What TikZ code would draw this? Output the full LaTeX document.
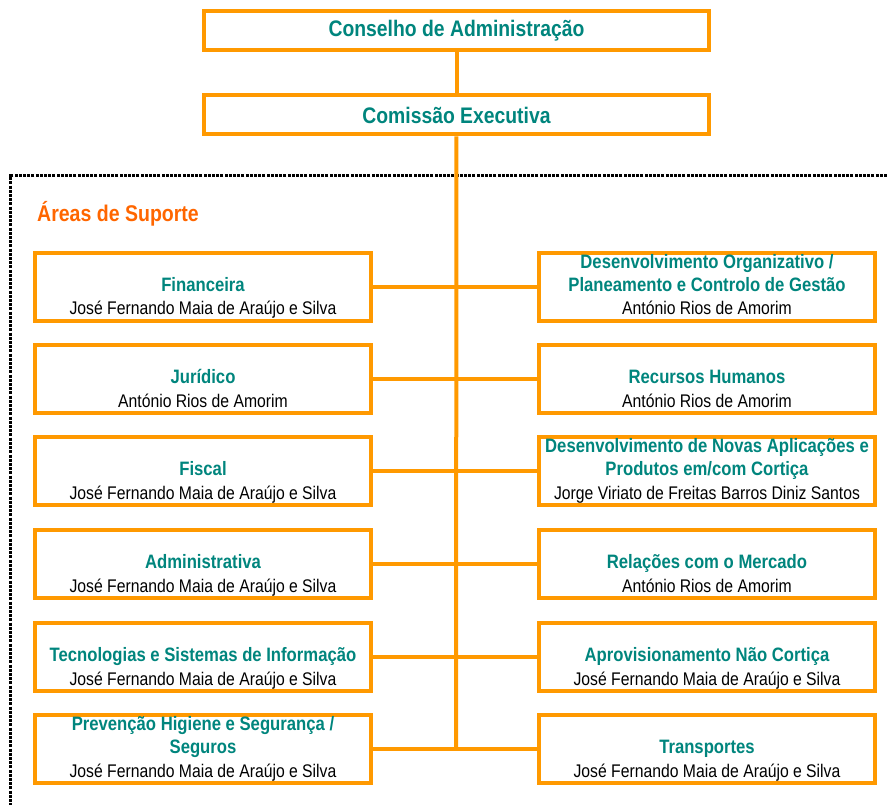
\documentclass[tikz,border=0pt]{standalone}
\usepackage{fontspec}
\setmainfont[FakeStretch=0.86]{Liberation Sans}
\definecolor{boxorange}{RGB}{255,153,0}
\definecolor{headteal}{RGB}{0,133,125}
\definecolor{areaorange}{RGB}{255,102,0}
\begin{document}
\begin{tikzpicture}[x=1pt,y=-1pt]
\tikzstyle{top}=[draw=boxorange,line width=4pt,minimum width=505pt,minimum height=39pt,inner sep=0pt,text=headteal,font=\bfseries\fontsize{22.5}{26}\selectfont];
\tikzstyle{unit}=[draw=boxorange,line width=4pt,minimum width=336pt,minimum height=68pt,inner sep=0pt];
\tikzstyle{head}=[anchor=south,text depth=0pt,inner sep=0pt,align=center,text=headteal,font=\bfseries\fontsize{19.4}{23}\selectfont];
\tikzstyle{who}=[anchor=base,inner sep=0pt,font=\fontsize{18.3}{22}\selectfont];
\tikzstyle{link}=[draw=boxorange,line width=4pt];
\useasboundingbox (0,0) rectangle (887,805);

% dotted frame round the support areas
\draw [line width=3pt,dash pattern=on 3pt off 1.2pt] (887,176) -- (10.5,176) -- (10.5,805);
\node [anchor=base west,inner sep=0pt,text=areaorange,font=\bfseries\fontsize{22.7}{26}\selectfont] (area) at (37,222) {Áreas de Suporte};

\node [top] (ca) at (456.5,31) {Conselho de Administração};
\node [top] (ce) at (456.5,115) {Comissão Executiva};
\coordinate (end) at (456,749);
\draw [link] (ca) -- (ce);
\draw [link] (ce) -- (end);

% left column
\node [unit] (l1) at (203,287) {};
\node [who] (l1n) at ([yshift=8pt]l1.south) {José Fernando Maia de Araújo e Silva};
\node [head] (l1h) at ([yshift=23pt]l1n.base) {Financeira};

\node [unit] (l2) at (203,379) {};
\node [who] (l2n) at ([yshift=8pt]l2.south) {António Rios de Amorim};
\node [head] (l2h) at ([yshift=23pt]l2n.base) {Jurídico};

\node [unit] (l3) at (203,471) {};
\node [who] (l3n) at ([yshift=8pt]l3.south) {José Fernando Maia de Araújo e Silva};
\node [head] (l3h) at ([yshift=23pt]l3n.base) {Fiscal};

\node [unit] (l4) at (203,564) {};
\node [who] (l4n) at ([yshift=8pt]l4.south) {José Fernando Maia de Araújo e Silva};
\node [head] (l4h) at ([yshift=23pt]l4n.base) {Administrativa};

\node [unit] (l5) at (203,657) {};
\node [who] (l5n) at ([yshift=8pt]l5.south) {José Fernando Maia de Araújo e Silva};
\node [head] (l5h) at ([yshift=23pt]l5n.base) {Tecnologias e Sistemas de Informação};

\node [unit] (l6) at (203,749) {};
\node [who] (l6n) at ([yshift=8pt]l6.south) {José Fernando Maia de Araújo e Silva};
\node [head] (l6h) at ([yshift=23pt]l6n.base) {Prevenção Higiene e Segurança /\\Seguros};

% right column
\node [unit] (r1) at (707,287) {};
\node [who] (r1n) at ([yshift=8pt]r1.south) {António Rios de Amorim};
\node [head] (r1h) at ([yshift=23pt]r1n.base) {Desenvolvimento Organizativo /\\Planeamento e Controlo de Gestão};

\node [unit] (r2) at (707,379) {};
\node [who] (r2n) at ([yshift=8pt]r2.south) {António Rios de Amorim};
\node [head] (r2h) at ([yshift=23pt]r2n.base) {Recursos Humanos};

\node [unit] (r3) at (707,471) {};
\node [who] (r3n) at ([yshift=8pt]r3.south) {Jorge Viriato de Freitas Barros Diniz Santos};
\node [head] (r3h) at ([yshift=23pt]r3n.base) {Desenvolvimento de Novas Aplicações e\\Produtos em/com Cortiça};

\node [unit] (r4) at (707,564) {};
\node [who] (r4n) at ([yshift=8pt]r4.south) {António Rios de Amorim};
\node [head] (r4h) at ([yshift=23pt]r4n.base) {Relações com o Mercado};

\node [unit] (r5) at (707,657) {};
\node [who] (r5n) at ([yshift=8pt]r5.south) {José Fernando Maia de Araújo e Silva};
\node [head] (r5h) at ([yshift=23pt]r5n.base) {Aprovisionamento Não Cortiça};

\node [unit] (r6) at (707,749) {};
\node [who] (r6n) at ([yshift=8pt]r6.south) {José Fernando Maia de Araújo e Silva};
\node [head] (r6h) at ([yshift=23pt]r6n.base) {Transportes};

\draw [link] (l1) -- (r1);
\draw [link] (l2) -- (r2);
\draw [link] (l3) -- (r3);
\draw [link] (l4) -- (r4);
\draw [link] (l5) -- (r5);
\draw [link] (l6) -- (r6);
\end{tikzpicture}
\end{document}
